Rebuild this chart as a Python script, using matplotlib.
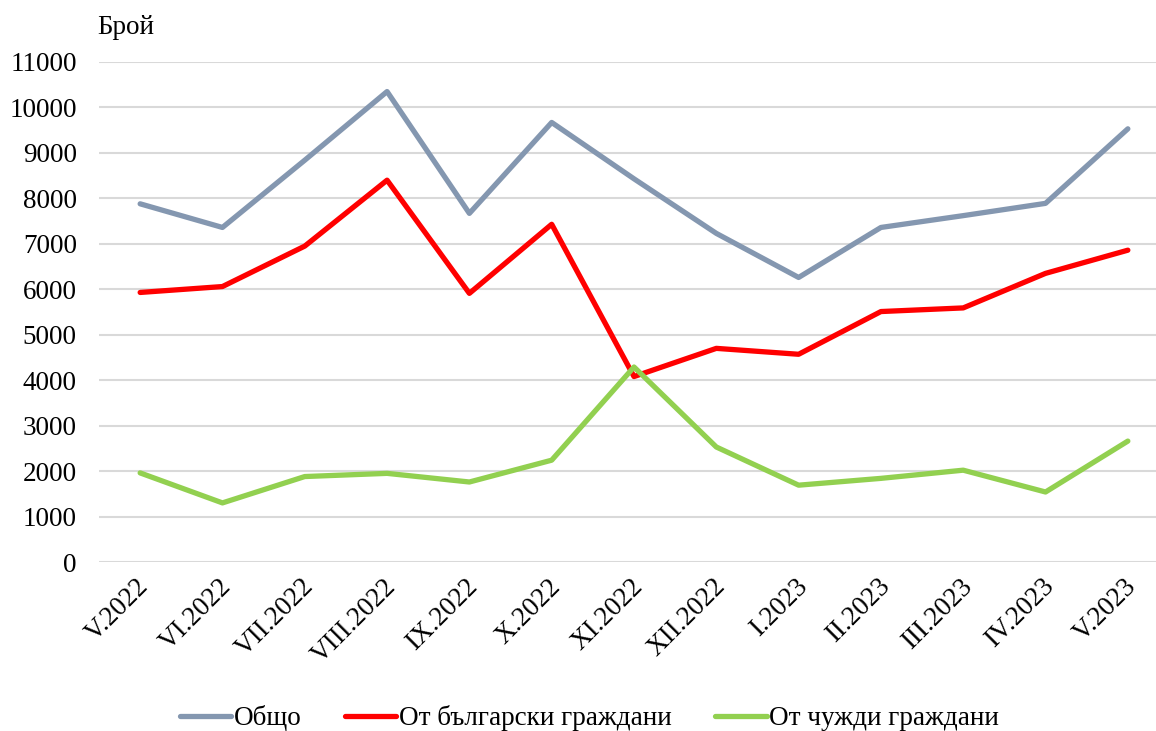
import matplotlib.pyplot as plt
from matplotlib.transforms import ScaledTranslation

plt.rcParams['font.family'] = ['Liberation Serif', 'DejaVu Serif']

months = ['V.2022', 'VI.2022', 'VII.2022', 'VIII.2022', 'IX.2022', 'X.2022', 'XI.2022',
          'XII.2022', 'I.2023', 'II.2023', 'III.2023', 'IV.2023', 'V.2023']
total = [7880, 7360, 8840, 10350, 7670, 9670, 8430, 7230, 6260, 7360, 7620, 7890, 9530]
bulgarian = [5930, 6060, 6950, 8400, 5910, 7430, 4080, 4700, 4570, 5510, 5590, 6350, 6860]
foreign = [1960, 1300, 1880, 1950, 1760, 2240, 4290, 2530, 1690, 1840, 2020, 1540, 2660]

series = [('Общо', total, '#8497B0'),
          ('От български граждани', bulgarian, '#FF0000'),
          ('От чужди граждани', foreign, '#92D050')]

fig = plt.figure(figsize=(11.56, 7.31), dpi=100)
ax = fig.add_axes([99 / 1156, 169 / 731, 1070 / 1156, 500 / 731])

x = range(len(months))
for name, vals, col in series:
    ax.plot(x, vals, color=col, linewidth=3.8, label=name, solid_capstyle='round', solid_joinstyle='round')

ax.set_xlim(-0.5, len(months) - 0.5)
ax.set_ylim(0, 11000)
ax.set_yticks(range(0, 11001, 1000))
ax.yaxis.grid(True, color='#D9D9D9', linewidth=1.5)
ax.set_axisbelow(True)
for s in ax.spines.values():
    s.set_visible(False)
ax.tick_params(axis='both', length=0, labelsize=19.5)
ax.tick_params(axis='y', pad=16)
ax.set_xticks(list(x))
ax.set_xticklabels(months, rotation=45, ha='right', va='center', rotation_mode='anchor')
ax.tick_params(axis='x', pad=15)
# shift labels slightly to the right
offset = ScaledTranslation(5 / 100, 0, fig.dpi_scale_trans)
for lbl in ax.get_xticklabels():
    lbl.set_transform(lbl.get_transform() + offset)

fig.text(97 / 1156, 1 - 27 / 731, 'Брой', fontsize=19.5, va='center', ha='left')

fig.legend(loc='center', bbox_to_anchor=(0.51, 1 - 718 / 731), ncol=3, frameon=False,
           fontsize=19.5, handlelength=1.9, handletextpad=0.1, columnspacing=1.6)

fig.savefig('out.png', dpi=100)
